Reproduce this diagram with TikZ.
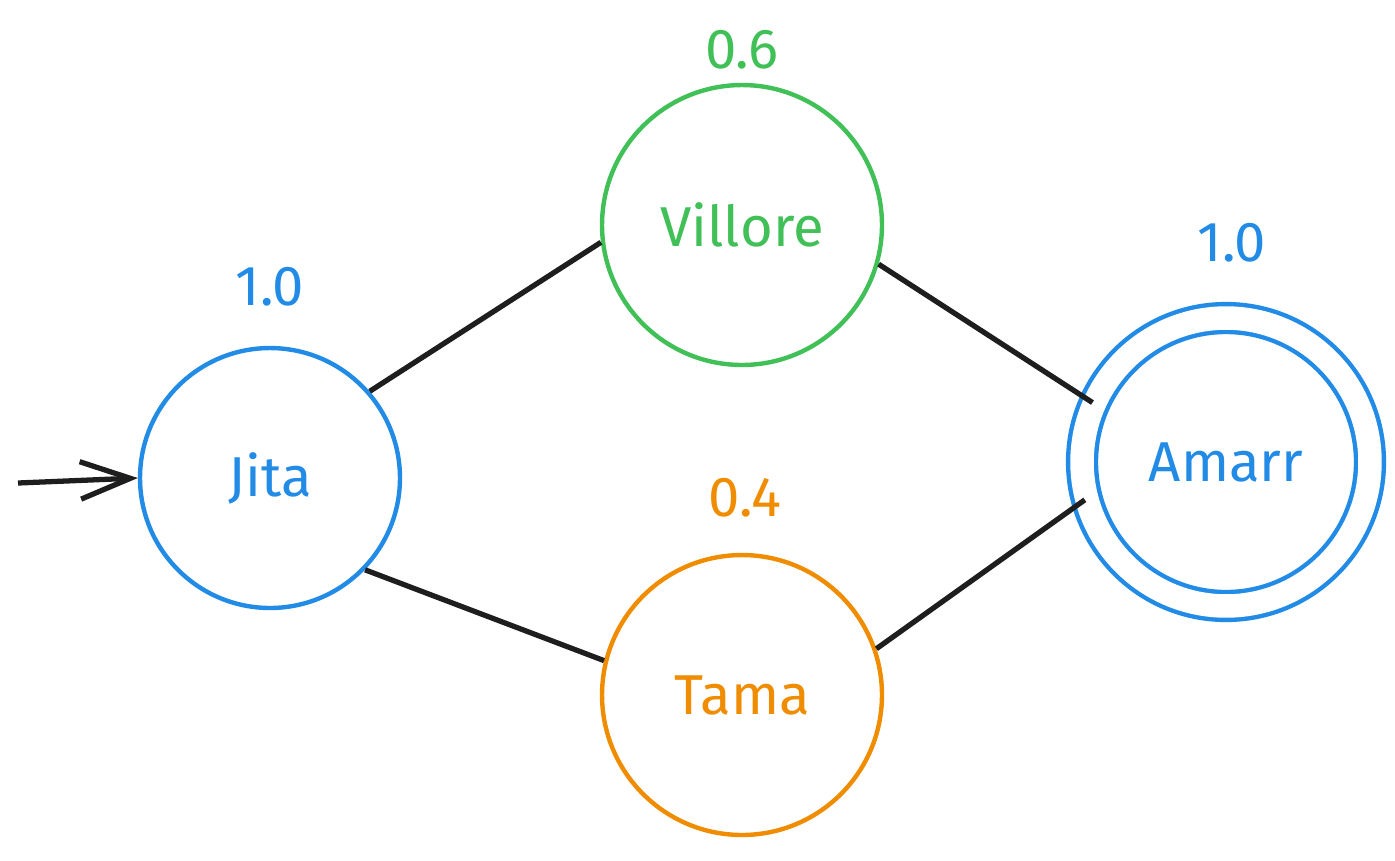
\documentclass[tikz,border=0pt]{standalone}
\usepackage{fontspec}
\setmainfont{Fira Sans}
\usetikzlibrary{arrows.meta}
\definecolor{stblue}{HTML}{228BE6}
\definecolor{stgreen}{HTML}{40C057}
\definecolor{storange}{HTML}{F08C00}
\definecolor{stline}{HTML}{1E1E1E}

\begin{document}
\begin{tikzpicture}[x=0.02cm, y=-0.02cm,
	state/.style={shape=circle, draw, line width=2.5pt, font=\fontsize{32}{36}\selectfont},
	weight/.style={anchor=center, font=\fontsize{32}{36}\selectfont},
	link/.style={draw=stline, line width=3pt}]
	\useasboundingbox (0, 0) rectangle (1395, 860);
	% States:
	\node[state, stblue, minimum size=5.2cm] (jita) at (270, 478){Jita};
	\node[state, stgreen, minimum size=5.6cm] (villore) at (742, 225){Villore};
	\node[state, storange, minimum size=5.6cm] (tama) at (742, 695){Tama};
	\node[state, stblue, minimum size=5.76cm, double, double distance=0.47cm] (amarr) at (1226, 462){Amarr};
	% Weights:
	\node[weight, stblue] (wjita) at (270, 287){1.0};
	\node[weight, stgreen] (wvillore) at (742, 50){0.6};
	\node[weight, storange] (wtama) at (745, 498){0.4};
	\node[weight, stblue] (wamarr) at (1232, 243){1.0};
	% Start arrow and links:
	\coordinate (start) at (18, 483);
	\draw[link, -{Straight Barb[length=1cm, width=0.75cm]}] (start) -- (jita.west);
	\draw[link] (jita.41) -- (villore.187);
	\draw[link] (villore.-16) -- (amarr.156);
	\draw[link] (jita.-44) -- (tama.166);
	\draw[link] (tama.19) -- (amarr.-165);
\end{tikzpicture}
\end{document}
